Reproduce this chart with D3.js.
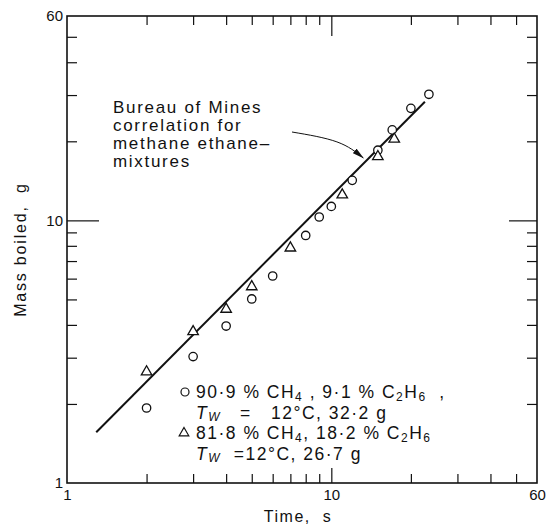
<!DOCTYPE html>
<html>
<head>
<meta charset="utf-8">
<script src="https://cdn.jsdelivr.net/npm/d3@7"></script>
<style>
  body { margin: 0; background: #fff; }
  text { font-family: "Liberation Sans", Arial, sans-serif; fill: #111; }
</style>
</head>
<body>
<script>
// tick values
const minorTicks = [2, 3, 4, 5, 6, 7, 8, 9, 20, 30, 40, 50];
const majorTicks = [10];
const tickLabels = [1, 10, 60];

// 90.9 % CH4 run (circles)
const circleTime = [2, 3, 4, 5, 6, 8, 9, 10, 12, 15, 17, 20, 23.4];
const circleMass = [1.93, 3.03, 3.96, 5.02, 6.14, 8.76, 10.3, 11.3, 14.2, 18.5, 22.1, 26.7, 30.2];

// 81.8 % CH4 run (triangles)
const triTime = [2, 3, 4, 5, 7, 11, 15, 17.3];
const triMass = [2.65, 3.77, 4.59, 5.59, 7.85, 12.5, 17.5, 20.4];

// Bureau of Mines correlation line
const corrTime = [1.29, 22.6];
const corrMass = [1.56, 28.3];

// annotation arrow path (data space)
const arrowTime = [7.1, 10.5, 13.2];
const arrowMass = [21.7, 19.9, 17.3];

const W = 546, H = 529;
const margin = { top: 16, right: 9, bottom: 46, left: 67 };
const width = W - margin.left - margin.right;
const height = H - margin.top - margin.bottom;

const svg = d3.select("body").append("svg")
  .attr("width", W)
  .attr("height", H);

const g = svg.append("g")
  .attr("transform", `translate(${margin.left},${margin.top})`);

const x = d3.scaleLog().domain([1, 60]).range([0, width]);
const y = d3.scaleLog().domain([1, 60]).range([height, 0]);

// inward ticks on all four sides
function ticks(axis, values, size, transform) {
  const a = g.append("g")
    .attr("transform", transform || null)
    .call(axis.tickValues(values).tickSize(size).tickFormat(""));
  a.select(".domain").remove();
  a.selectAll("line").attr("stroke", "#111").attr("stroke-width", 1.2);
  return a;
}
ticks(d3.axisBottom(x), minorTicks, -9, `translate(0,${height})`);
ticks(d3.axisBottom(x), majorTicks, -15, `translate(0,${height})`);
ticks(d3.axisTop(x), minorTicks, -9);
ticks(d3.axisTop(x), majorTicks, -20);
ticks(d3.axisLeft(y), minorTicks, -10);
ticks(d3.axisLeft(y), majorTicks, -32);
ticks(d3.axisRight(y), minorTicks, -10, `translate(${width},0)`);
ticks(d3.axisRight(y), majorTicks, -28, `translate(${width},0)`);

// frame
g.append("rect")
  .attr("width", width)
  .attr("height", height)
  .attr("fill", "none")
  .attr("stroke", "#111")
  .attr("stroke-width", 1.6);

// tick labels
const xl = g.append("g")
  .attr("transform", `translate(0,${height})`)
  .call(d3.axisBottom(x).tickValues(tickLabels).tickSize(0).tickPadding(6).tickFormat(d3.format("d")));
xl.select(".domain").remove();
xl.selectAll("text").style("font-size", "15px").style("font-family", "Liberation Sans");

const yl = g.append("g")
  .call(d3.axisLeft(y).tickValues(tickLabels).tickSize(0).tickPadding(4).tickFormat(d3.format("d")));
yl.select(".domain").remove();
yl.selectAll("text").style("font-size", "15px").style("font-family", "Liberation Sans");

// axis titles
svg.append("text")
  .attr("x", margin.left + width / 2 - 4)
  .attr("y", 522)
  .attr("text-anchor", "middle")
  .style("font-size", "16px")
  .style("letter-spacing", "1.5px")
  .attr("xml:space", "preserve")
  .text("Time,  s");

svg.append("text")
  .attr("transform", `translate(26,${margin.top + height / 2}) rotate(-90)`)
  .attr("text-anchor", "middle")
  .style("font-size", "16px")
  .style("letter-spacing", "1.8px")
  .attr("xml:space", "preserve")
  .text("Mass boiled,  g");

// correlation line
const line = d3.line().x(d => x(d[0])).y(d => y(d[1]));
g.append("path")
  .datum(d3.zip(corrTime, corrMass))
  .attr("d", line)
  .attr("fill", "none")
  .attr("stroke", "#111")
  .attr("stroke-width", 2);

// data markers
g.selectAll(".circ")
  .data(d3.zip(circleTime, circleMass))
  .join("circle")
  .attr("class", "circ")
  .attr("cx", d => x(d[0]))
  .attr("cy", d => y(d[1]))
  .attr("r", 4.2)
  .attr("fill", "#fff")
  .attr("stroke", "#111")
  .attr("stroke-width", 1.3);

const tri = d3.symbol().type(d3.symbolTriangle).size(48);
g.selectAll(".tri")
  .data(d3.zip(triTime, triMass))
  .join("path")
  .attr("class", "tri")
  .attr("transform", d => `translate(${x(d[0])},${y(d[1])})`)
  .attr("d", tri)
  .attr("fill", "#fff")
  .attr("stroke", "#111")
  .attr("stroke-width", 1.3);

// annotation
svg.append("defs").append("marker")
  .attr("id", "head")
  .attr("viewBox", "0 0 12 6")
  .attr("refX", 11).attr("refY", 3)
  .attr("markerWidth", 12).attr("markerHeight", 6)
  .attr("markerUnits", "userSpaceOnUse")
  .attr("orient", "auto")
  .append("path")
  .attr("d", "M0,0 L12,3 L0,6 Z")
  .attr("fill", "#111");

g.append("path")
  .datum(d3.zip(arrowTime, arrowMass))
  .attr("d", d3.line().x(d => x(d[0])).y(d => y(d[1])).curve(d3.curveNatural))
  .attr("fill", "none")
  .attr("stroke", "#111")
  .attr("stroke-width", 1)
  .attr("marker-end", "url(#head)");

const note = ["Bureau of Mines", "correlation for", "methane ethane\u2013", "mixtures"];
svg.append("g").selectAll("text")
  .data(note)
  .join("text")
  .attr("x", 113)
  .attr("y", (d, i) => 113 + i * 18)
  .style("font-size", "17px")
  .style("letter-spacing", "1.7px")
  .text(d => d);

// legend
const legendRows = [
  [["90·9 % CH", 0], ["4", 1], [" , 9·1 % C", 0], ["2", 1], ["H", 0], ["6", 1], ["  ,", 0]],
  [["T", 2], ["W", 3], ["   =   12°C, 32·2 g", 0]],
  [["81·8 % CH", 0], ["4", 1], [", 18·2 % C", 0], ["2", 1], ["H", 0], ["6", 1]],
  [["T", 2], ["W", 3], ["  =12°C, 26·7 g", 0]]
];
const legX = 196, legY0 = 398, legDy = 20.5;
legendRows.forEach((row, i) => {
  const t = svg.append("text")
    .attr("x", legX)
    .attr("y", legY0 + i * legDy)
    .attr("xml:space", "preserve")
    .style("font-size", "17.5px")
    .style("letter-spacing", "1.5px");
  let shifted = false;
  row.forEach(([s, kind]) => {
    const sub = kind === 1 || kind === 3;
    const span = t.append("tspan").text(s);
    if (sub && !shifted) { span.attr("dy", 2.5); shifted = true; }
    else if (!sub && shifted) { span.attr("dy", -2.5); shifted = false; }
    if (sub) span.style("font-size", "12px");
    if (kind >= 2) span.style("font-style", "italic");
  });
});
svg.append("circle")
  .attr("cx", 185).attr("cy", legY0 - 6)
  .attr("r", 4)
  .attr("fill", "#fff").attr("stroke", "#111").attr("stroke-width", 1.2);
svg.append("path")
  .attr("transform", `translate(184,${legY0 + 2 * legDy - 6})`)
  .attr("d", d3.symbol().type(d3.symbolTriangle).size(40))
  .attr("fill", "#fff").attr("stroke", "#111").attr("stroke-width", 1.2);
</script>
</body>
</html>
